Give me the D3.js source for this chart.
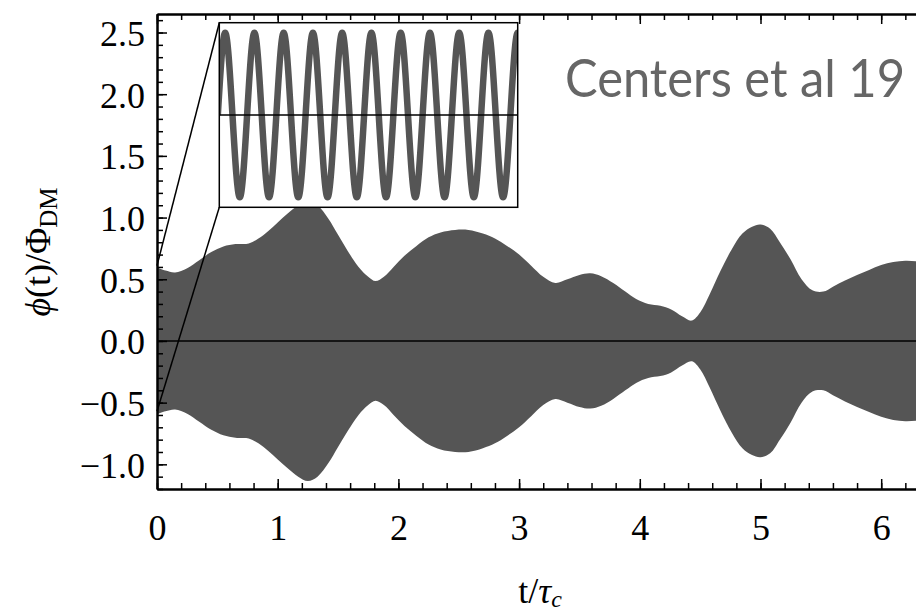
<!DOCTYPE html>
<html>
<head>
<meta charset="utf-8">
<script src="https://cdn.jsdelivr.net/npm/d3@7"></script>
<style>
  body { margin: 0; background: #fff; }
  svg { display: block; }
</style>
</head>
<body>
<div id="chart"></div>
<script>
// envelope of phi(t)/Phi_DM (symmetric about 0)
const tVals = [0.00, 0.07, 0.15, 0.25, 0.35, 0.45, 0.55, 0.65, 0.76, 0.84, 0.92, 1.00, 1.08, 1.17, 1.25,
  1.33, 1.42, 1.50, 1.58, 1.67, 1.75, 1.81, 1.88, 1.96, 2.05, 2.15, 2.25, 2.35, 2.47, 2.58,
  2.70, 2.80, 2.90, 3.00, 3.10, 3.20, 3.30, 3.40, 3.50, 3.59, 3.68, 3.78, 3.88, 3.97, 4.07,
  4.17, 4.26, 4.35, 4.43, 4.50, 4.58, 4.67, 4.76, 4.85, 4.93, 5.00, 5.08, 5.16, 5.25, 5.34,
  5.43, 5.52, 5.60, 5.70, 5.80, 5.90, 6.00, 6.10, 6.20, 6.30, 6.40];
const ampVals = [0.595, 0.57, 0.555, 0.59, 0.655, 0.72, 0.765, 0.785, 0.79, 0.83, 0.89, 0.96, 1.03, 1.10, 1.135,
  1.10, 0.99, 0.86, 0.73, 0.60, 0.52, 0.485, 0.52, 0.60, 0.69, 0.77, 0.84, 0.88, 0.90, 0.90,
  0.87, 0.83, 0.77, 0.70, 0.61, 0.52, 0.47, 0.50, 0.535, 0.548, 0.525, 0.47, 0.40, 0.34, 0.30,
  0.285, 0.255, 0.20, 0.165, 0.23, 0.38, 0.57, 0.74, 0.87, 0.925, 0.943, 0.91, 0.80, 0.66, 0.50,
  0.41, 0.40, 0.44, 0.49, 0.535, 0.575, 0.615, 0.64, 0.65, 0.645, 0.63];

// inset: fast oscillation near t = 0 (x in oscillation periods)
const insetT = [-0.25, 0, 0.25, 0.5, 0.75, 1, 1.25, 1.5, 1.75, 2, 2.25, 2.5, 2.75, 3, 3.25, 3.5, 3.75,
  4, 4.25, 4.5, 4.75, 5, 5.25, 5.5, 5.75, 6, 6.25, 6.5, 6.75, 7, 7.25, 7.5, 7.75, 8, 8.25, 8.5, 8.75,
  9, 9.25, 9.5, 9.75, 10, 10.25];
const insetPhi = [0, 0.6, 0, -0.6, 0, 0.6, 0, -0.6, 0, 0.6, 0, -0.6, 0, 0.6, 0, -0.6, 0,
  0.6, 0, -0.6, 0, 0.6, 0, -0.6, 0, 0.6, 0, -0.6, 0, 0.6, 0, -0.6, 0, 0.6, 0, -0.6, 0,
  0.6, 0, -0.6, 0, 0.6, 0];
const zoomRange = [-0.57, 0.61]; // where the connector lines meet t = 0

const xTicks = [0, 1, 2, 3, 4, 5, 6];
const yTicks = [-1.0, -0.5, 0.0, 0.5, 1.0, 1.5, 2.0, 2.5];

const width = 916;
const height = 613;
const margin = { top: 14, left: 157, bottom: 124 };

const svg = d3.select("#chart")
  .append("svg")
  .attr("width", width)
  .attr("height", height);

const x = d3.scaleLinear().domain([0, 6.5]).range([margin.left, margin.left + 6.5 * 120.7]);
const y = d3.scaleLinear().domain([-1.2, 2.65]).range([height - margin.bottom, margin.top]);

const serif = "'Liberation Serif', 'Times New Roman', serif";

// envelope
const env = tVals.map((t, i) => ({ t, a: ampVals[i] }));
svg.append("path")
  .datum(env)
  .attr("fill", "#555555")
  .attr("d", d3.area()
    .x(d => x(d.t))
    .y0(d => y(-d.a))
    .y1(d => y(d.a))
    .curve(d3.curveCatmullRom));

// zero line
svg.append("line")
  .attr("x1", x(0)).attr("x2", width)
  .attr("y1", y(0)).attr("y2", y(0))
  .attr("stroke", "#000").attr("stroke-width", 1.5);

// axes (ticks point inward)
function tickAxis(axis, values, size, transform, labels) {
  const g = svg.append("g")
    .attr("transform", transform)
    .call(axis.tickValues(values).tickSizeInner(-size).tickSizeOuter(0)
      .tickPadding(size + 13)
      .tickFormat(labels ? labels : ""));
  g.select(".domain").attr("stroke-width", 2);
  g.selectAll(".tick line").attr("stroke-width", 1.5);
  g.selectAll(".tick text").attr("font-family", serif).attr("font-size", 36).attr("fill", "#000");
  return g;
}

const minorX = d3.range(0, 6.61, 0.2);
const minorY = d3.range(-1.2, 2.61, 0.1);
const yb = y.range()[0];
const yt = y.range()[1];

tickAxis(d3.axisBottom(x), minorX, 6, `translate(0,${yb})`, null);
const xb = tickAxis(d3.axisBottom(x), xTicks, 10, `translate(0,${yb})`, d3.format("d"));
xb.selectAll(".tick text").attr("dy", "0.71em").attr("y", 25);
tickAxis(d3.axisTop(x), minorX, 6, `translate(0,${yt})`, null);
tickAxis(d3.axisTop(x), xTicks, 10, `translate(0,${yt})`, null);
tickAxis(d3.axisLeft(y), minorY, 6, `translate(${margin.left},0)`, null);
const yl = tickAxis(d3.axisLeft(y), yTicks, 10, `translate(${margin.left},0)`, d3.format(".1f"));
yl.selectAll(".tick text").attr("x", -12).attr("dy", "0.36em");

// inset
const box = { x0: 219.3, y0: 22.7, x1: 517.7, y1: 207.3 };
const ix = d3.scaleLinear().domain([-0.2, 10.0]).range([box.x0, box.x1]);
const iy = d3.scaleLinear().domain([-0.673, 0.673]).range([box.y1, box.y0]);

// connector lines
svg.append("line")
  .attr("x1", box.x0).attr("y1", box.y0)
  .attr("x2", x(0)).attr("y2", y(zoomRange[1]))
  .attr("stroke", "#000").attr("stroke-width", 1.5);
svg.append("line")
  .attr("x1", box.x0).attr("y1", box.y1)
  .attr("x2", x(0)).attr("y2", y(zoomRange[0]))
  .attr("stroke", "#000").attr("stroke-width", 1.5);

svg.append("clipPath").attr("id", "insetClip")
  .append("rect")
  .attr("x", box.x0).attr("y", box.y0)
  .attr("width", box.x1 - box.x0).attr("height", box.y1 - box.y0);

svg.append("rect")
  .attr("x", box.x0).attr("y", box.y0)
  .attr("width", box.x1 - box.x0).attr("height", box.y1 - box.y0)
  .attr("fill", "#fff");

const osc = insetT.map((t, i) => ({ t, v: insetPhi[i] }));
svg.append("path")
  .datum(osc)
  .attr("clip-path", "url(#insetClip)")
  .attr("fill", "none")
  .attr("stroke", "#555555")
  .attr("stroke-width", 6.5)
  .attr("d", d3.line().x(d => ix(d.t)).y(d => iy(d.v)).curve(d3.curveNatural));

svg.append("line")
  .attr("x1", box.x0).attr("x2", box.x1)
  .attr("y1", iy(0)).attr("y2", iy(0))
  .attr("stroke", "#000").attr("stroke-width", 1.5);

svg.append("rect")
  .attr("x", box.x0).attr("y", box.y0)
  .attr("width", box.x1 - box.x0).attr("height", box.y1 - box.y0)
  .attr("fill", "none")
  .attr("stroke", "#000").attr("stroke-width", 1.5);

// annotation
svg.append("text")
  .attr("x", 565)
  .attr("y", 97)
  .attr("font-family", "Lato, 'Open Sans', sans-serif")
  .attr("font-size", 53)
  .attr("textLength", 340)
  .attr("lengthAdjust", "spacingAndGlyphs")
  .attr("fill", "#666666")
  .text("Centers et al 19");

// axis titles
svg.append("text")
  .attr("x", 540)
  .attr("y", 603)
  .attr("text-anchor", "middle")
  .attr("font-family", serif)
  .attr("font-size", 36)
  .call(t => {
    t.append("tspan").text("t/");
    t.append("tspan").attr("font-style", "italic").text("τ");
    t.append("tspan").attr("font-style", "italic").attr("font-size", 24).attr("dy", 4).text("c");
  });

svg.append("text")
  .attr("transform", "translate(50,252) rotate(-90)")
  .attr("text-anchor", "middle")
  .attr("font-family", serif)
  .attr("font-size", 36)
  .call(t => {
    t.append("tspan").attr("font-style", "italic").text("ϕ");
    t.append("tspan").text("(t)/Φ");
    t.append("tspan").attr("font-size", 25).attr("dy", 7).text("DM");
  });
</script>
</body>
</html>
